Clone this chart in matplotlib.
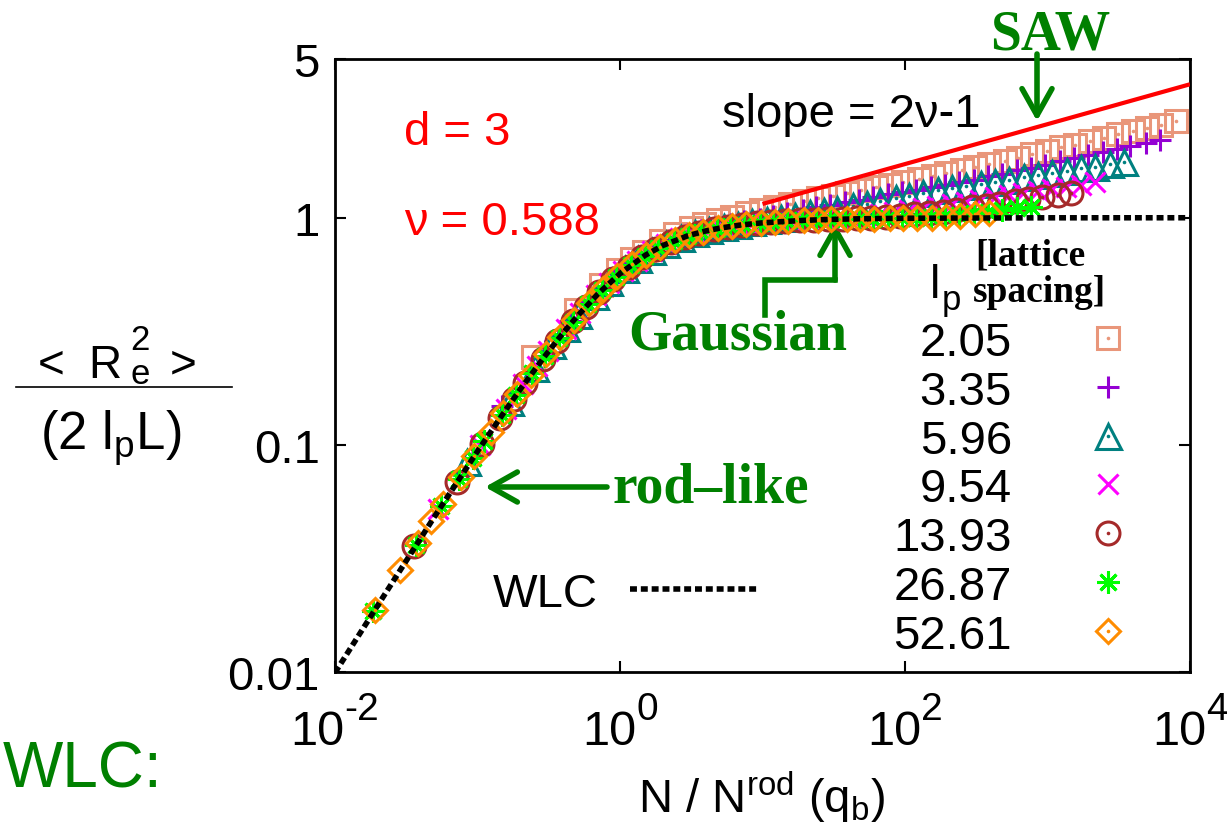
import numpy as np
import matplotlib
matplotlib.use("Agg")
import matplotlib.pyplot as plt
from matplotlib.lines import Line2D
from matplotlib.patches import ArrowStyle

plt.rcParams['font.family'] = ['Liberation Sans', 'DejaVu Sans']
plt.rcParams['mathtext.fontset'] = 'custom'
plt.rcParams['mathtext.rm'] = 'Liberation Sans'
plt.rcParams['mathtext.it'] = 'Liberation Sans:italic'

# chain lengths N (bonds) at which <Re^2> was measured
chain_len = [1, 2, 3, 4, 5, 6, 8, 10, 13, 16, 20, 25, 32, 40, 50, 64, 80, 100,
             128, 160, 200, 256, 320, 400, 512, 640, 800, 1024, 1280, 1600,
             2048, 2560, 3200, 4096, 5120, 6400, 8192, 10240, 12800, 16384,
             20480, 25600, 32768, 40960]

lp_values = [2.05, 3.35, 5.96, 9.54, 13.93, 26.87, 52.61]
lp_labels = ['2.05', '3.35', '5.96', '9.54', '13.93', '26.87', '52.61']
first_n = [0, 0, 0, 0, 0, 0, 1]   # index into chain_len of the first point

# <Re^2>/(2 lp L), one list per lp
r2_205 = [0.244, 0.394, 0.505, 0.589, 0.655, 0.71, 0.79, 0.845, 0.90, 0.94, 0.98,
          1.01, 1.05, 1.085, 1.12, 1.151, 1.19, 1.22, 1.253, 1.29, 1.33, 1.364,
          1.40, 1.44, 1.484, 1.525, 1.567, 1.615, 1.665, 1.72, 1.78, 1.84, 1.90,
          1.97, 2.04, 2.10, 2.18, 2.25, 2.33, 2.41, 2.49, 2.57, 2.66]
r2_335 = [0.149, 0.260, 0.351, 0.428, 0.492, 0.546, 0.630, 0.692, 0.757, 0.80,
          0.845, 0.88, 0.915, 0.94, 0.965, 0.99, 1.02, 1.05, 1.08, 1.11, 1.14,
          1.17, 1.20, 1.23, 1.27, 1.30, 1.33, 1.37, 1.40, 1.43, 1.47, 1.52, 1.56,
          1.615, 1.66, 1.715, 1.77, 1.83, 1.88, 1.945, 2.00, 2.065, 2.13, 2.20]
r2_596 = [0.084, 0.155, 0.219, 0.276, 0.327, 0.374, 0.453, 0.519, 0.597, 0.656,
          0.715, 0.768, 0.817, 0.855, 0.885, 0.912, 0.932, 0.96, 0.98, 1.0, 1.02,
          1.045, 1.07, 1.095, 1.125, 1.155, 1.185, 1.22, 1.25, 1.285, 1.32, 1.35,
          1.38, 1.41, 1.44, 1.47, 1.51, 1.54, 1.575, 1.61, 1.65, 1.68, 1.725, 1.76]
r2_954 = [0.0524, 0.100, 0.144, 0.185, 0.2235, 0.260, 0.325, 0.382, 0.456, 0.517,
          0.583, 0.648, 0.714, 0.766, 0.811, 0.852, 0.882, 0.906, 0.927, 0.941,
          0.953, 0.964, 0.972, 0.98, 0.988, 1.0, 1.01, 1.025, 1.04, 1.06, 1.08,
          1.10, 1.125, 1.15, 1.175, 1.20, 1.23, 1.26, 1.285, 1.315, 1.345, 1.37,
          1.40, 1.43]
r2_1393 = [0.0359, 0.0685, 0.1004, 0.1308, 0.1598, 0.1875, 0.239, 0.2865, 0.350,
           0.4055, 0.469, 0.535, 0.6085, 0.6715, 0.729, 0.7845, 0.826, 0.861,
           0.891, 0.913, 0.930, 0.9456, 0.9565, 0.965, 0.973, 0.978, 0.983, 0.99,
           0.995, 1.0, 1.01, 1.02, 1.035, 1.05, 1.065, 1.085, 1.11, 1.13, 1.155,
           1.18, 1.205, 1.23, 1.26, 1.29]
r2_2687 = [0.0186, 0.0363, 0.0538, 0.0709, 0.0875, 0.1039, 0.1352, 0.165, 0.2071,
           0.2465, 0.2948, 0.349, 0.4155, 0.48, 0.546, 0.619, 0.681, 0.738, 0.792,
           0.8325, 0.866, 0.895, 0.916, 0.933, 0.9475, 0.958, 0.9664, 0.9738,
           0.979, 0.983, 0.987, 0.9895, 0.9916, 0.9934, 0.995, 1.0, 1.005, 1.015,
           1.03, 1.045, 1.06, 1.08, 1.10, 1.12]
r2_5261 = [0.0188, 0.028, 0.037, 0.046, 0.0549, 0.0723, 0.0893, 0.114, 0.1378,
           0.1681, 0.2041, 0.2509, 0.2996, 0.3546, 0.4215, 0.486, 0.5525, 0.625,
           0.687, 0.743, 0.796, 0.836, 0.8685, 0.897, 0.918, 0.934, 0.9486, 0.959,
           0.967, 0.974, 0.9795, 0.9836, 0.987, 0.99, 0.992, 0.994, 0.995, 0.998,
           1.0, 1.01, 1.02, 1.035, 1.05]
r2_all = [r2_205, r2_335, r2_596, r2_954, r2_1393, r2_2687, r2_5261]

# worm-like chain curve
wlc_x = [0.01, 0.02, 0.05, 0.1, 0.15, 0.2, 0.3, 0.4, 0.5, 0.7, 1, 1.5, 2, 3, 4,
         5, 7, 10, 20, 30, 50, 100, 1000, 10000]
wlc_y = [0.00993, 0.0197, 0.0484, 0.0937, 0.1361, 0.176, 0.248, 0.3117, 0.368,
         0.462, 0.568, 0.683, 0.755, 0.834, 0.875, 0.900, 0.929, 0.950, 0.975,
         0.9833, 0.990, 0.995, 0.9995, 1.0]

# SAW slope line
saw_x = [10, 10000]
saw_y = [1.15, 3.87]

x_ticks = [1e-2, 1, 1e2, 1e4]
x_tick_exp = ['-2', '0', '2', '4']
y_ticks = [0.01, 0.1, 1, 5]
y_tick_labels = ['0.01', '0.1', '1', '5']

W, H = 1227, 829
GREEN = '#008000'
WLC_LS = (0, (1.25, 0.7))

styles = [
    dict(marker='s', ms=15.5, color='#E9967A', dot=True),
    dict(marker='+', ms=16, color='#9400D3', dot=False),
    dict(marker='^', ms=18, color='#008080', dot=True),
    dict(marker='x', ms=15, color='#FF00FF', dot=False),
    dict(marker='o', ms=16.5, color='#A52A2A', dot=True),
    dict(marker=(8, 2, 0), ms=16, color='#00FF00', dot=False),
    dict(marker='D', ms=12.5, color='#FF8C00', dot=True),
]


def fx(px):
    return px / W


def fy(py):
    return 1 - py / H


fig = plt.figure(figsize=(W / 100, H / 100), dpi=100)
ax = fig.add_axes([fx(335), fy(673), (1190 - 335) / W, (673 - 60) / H])
ax.set_xscale('log')
ax.set_yscale('log')

for i, lp in enumerate(lp_values):
    st = styles[i]
    y = np.array(r2_all[i])
    n = np.array(chain_len[first_n[i]:first_n[i] + len(y)])
    x = n / (2 * lp)
    ax.plot(x, y, ls='none', marker=st['marker'], ms=st['ms'], mfc='none',
            mec=st['color'], mew=2.2, clip_on=False, zorder=3 + i)
    if st['dot']:
        ax.plot(x, y, ls='none', marker='o', ms=2.6, mfc=st['color'],
                mec='none', clip_on=False, zorder=3 + i)

ax.plot(wlc_x, wlc_y, color='black', lw=4, ls=WLC_LS, zorder=20)
ax.plot(saw_x, saw_y, color='red', lw=3, zorder=21, solid_capstyle='butt')

ax.set_xlim(1e-2, 1e4)
ax.set_ylim(0.01, 5)
ax.set_xticks(x_ticks)
ax.set_xticklabels([])
ax.set_yticks(y_ticks)
ax.set_yticklabels(y_tick_labels)
ax.xaxis.set_minor_locator(matplotlib.ticker.NullLocator())
ax.yaxis.set_minor_locator(matplotlib.ticker.NullLocator())
ax.tick_params(which='both', direction='in', top=True, right=True,
               length=8, width=1.5)
ax.tick_params(axis='y', pad=11, labelsize=34)
for sp in ax.spines.values():
    sp.set_linewidth(2)

# x tick labels: "10" plus a raised exponent, centred on the tick
for v, e in zip(x_ticks, x_tick_exp):
    sup_w = 35 if e.startswith('-') else 22
    off = (54 - sup_w) / 2
    ax.annotate('10', xy=(v, 0), xycoords=('data', 'axes fraction'),
                xytext=(off, -72), textcoords='offset pixels',
                ha='right', va='baseline', fontsize=35, annotation_clip=False)
    ax.annotate(e, xy=(v, 0), xycoords=('data', 'axes fraction'),
                xytext=(off, -47), textcoords='offset pixels',
                ha='left', va='baseline', fontsize=28, annotation_clip=False)

# axis labels
fig.text(fx(762), fy(813), r'N / N$^{\mathrm{rod}}$ (q$_{\mathrm{b}}$)',
         ha='center', va='baseline', fontsize=34)
fig.text(fx(38), fy(378), '<', ha='left', va='baseline', fontsize=33)
fig.text(fx(88), fy(378), 'R', ha='left', va='baseline', fontsize=33)
fig.text(fx(130), fy(350), '2', ha='left', va='baseline', fontsize=25)
fig.text(fx(131), fy(384), 'e', ha='left', va='baseline', fontsize=25)
fig.text(fx(170), fy(378), '>', ha='left', va='baseline', fontsize=33)
fig.add_artist(Line2D([fx(16), fx(232)], [fy(388), fy(388)], color='black',
                      lw=1.2, transform=fig.transFigure))
fig.text(fx(40), fy(450), r'(2 l$_{\mathrm{p}}$L)', ha='left', va='baseline',
         fontsize=38)

fig.text(fx(3), fy(788), 'WLC:', color=GREEN, fontsize=46, ha='left',
         va='baseline')

# annotations inside the plot
fig.text(fx(404), fy(145), 'd = 3', color='red', fontsize=34, va='baseline')
fig.text(fx(404), fy(235), '\u03bd = 0.588', color='red', fontsize=34,
         va='baseline')
fig.text(fx(980), fy(127), 'slope = 2\u03bd-1', color='black', fontsize=34,
         ha='right', va='baseline')

serif = ['Liberation Serif', 'DejaVu Serif']
fig.text(fx(1050), fy(50), 'SAW', color=GREEN, fontsize=40, fontweight='bold',
         family=serif, ha='center', va='baseline')
fig.text(fx(628), fy(350), 'Gaussian', color=GREEN, fontsize=40,
         fontweight='bold', family=serif, ha='left', va='baseline')
fig.text(fx(613), fy(503), 'rod\u2013like', color=GREEN, fontsize=40,
         fontweight='bold', family=serif, ha='left', va='baseline')

arrow = ArrowStyle('->', head_length=0.8, head_width=0.45)
ap = dict(arrowstyle=arrow, color=GREEN, lw=4, mutation_scale=24,
          shrinkA=0, shrinkB=0)
ax.annotate('', xy=(fx(1037), fy(122)), xytext=(fx(1037), fy(55)),
            xycoords='figure fraction', textcoords='figure fraction',
            arrowprops=ap)
ax.annotate('', xy=(fx(835), fy(224)), xytext=(fx(835), fy(281)),
            xycoords='figure fraction', textcoords='figure fraction',
            arrowprops=ap)
fig.add_artist(Line2D([fx(765), fx(765), fx(835)], [fy(316), fy(281), fy(281)],
                      color=GREEN, lw=4, solid_joinstyle='miter',
                      solid_capstyle='projecting', transform=fig.transFigure))
ax.annotate('', xy=(fx(485), fy(488)), xytext=(fx(607), fy(488)),
            xycoords='figure fraction', textcoords='figure fraction',
            arrowprops=ap)

# legend
fig.text(fx(975), fy(265), '[lattice', fontsize=27, fontweight='bold',
         family=serif, ha='left', va='baseline')
fig.text(fx(973), fy(302), 'spacing]', fontsize=27, fontweight='bold',
         family=serif, ha='left', va='baseline')
fig.text(fx(930), fy(298), 'l', fontsize=34, ha='left', va='baseline')
fig.text(fx(942), fy(310), 'p', fontsize=25, ha='left', va='baseline')

for i, lab in enumerate(lp_labels):
    st = styles[i]
    ypx = 339 + 48.8 * i
    fig.text(fx(1012), fy(ypx + 17), lab, fontsize=34, ha='right',
             va='baseline')
    fig.add_artist(Line2D([fx(1108)], [fy(ypx)], ls='none',
                          marker=st['marker'], ms=st['ms'], mfc='none',
                          mec=st['color'], mew=2.2, transform=fig.transFigure))
    if st['dot']:
        fig.add_artist(Line2D([fx(1108)], [fy(ypx)], ls='none', marker='o',
                              ms=2.6, mfc=st['color'], mec='none',
                              transform=fig.transFigure))

fig.text(fx(493), fy(607), 'WLC', fontsize=34, ha='left', va='baseline')
fig.add_artist(Line2D([fx(630), fx(758)], [fy(590), fy(590)], color='black',
                      lw=4, ls=WLC_LS, transform=fig.transFigure))

fig.savefig('out.png', dpi=100)
